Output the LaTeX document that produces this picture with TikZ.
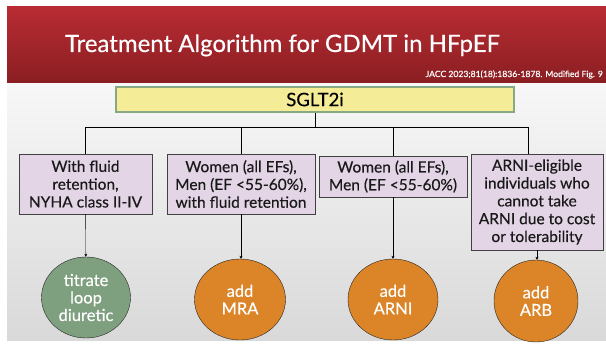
\documentclass[tikz,border=0pt]{standalone}
\usepackage{fontspec}
\setmainfont{Lato}[FakeBold=0.35]
\usetikzlibrary{arrows.meta,shapes.geometric}
\definecolor{bannertop}{HTML}{B82C33}
\definecolor{bannerbot}{HTML}{8A1E22}
\definecolor{boxfill}{HTML}{E3D5E6}
\definecolor{rootfill}{HTML}{F5EC98}
\definecolor{rootline}{HTML}{86A883}
\definecolor{greenfill}{HTML}{7EA07F}
\definecolor{orangefill}{HTML}{DB8428}

\begin{document}
\begin{tikzpicture}[x=1pt,y=-1pt,>={Stealth[length=3pt,width=3pt]},
  every node/.style={align=center},
  cond/.style={draw=black!75,fill=boxfill,inner sep=0pt,text=black!90,
    font=\fontsize{15.5}{17.8}\selectfont},
  drug/.style={ellipse,draw=black!85,inner sep=0pt,text=white,
    font=\fontsize{16.5}{17.5}\selectfont}]
\useasboundingbox (0,0) rectangle (606,345);
\shade[top color=black!3,bottom color=black!15] (7,83) rectangle (606,340);
\shade[top color=bannertop,bottom color=bannerbot] (7,7) rectangle (606,83);
\node[anchor=base,text=white,font=\fontsize{24}{28}\selectfont] (title) at (282.5,52)
  {Treatment Algorithm for GDMT in HFpEF};
\node[anchor=base east,text=white,inner sep=1pt,font=\fontsize{8.6}{10}\selectfont] (ref) at (604,77)
  {JACC 2023;81(18):1836-1878. Modified Fig. 9};

\node[draw=rootline,line width=1.8pt,fill=rootfill,minimum width=398,minimum height=25,
  inner sep=0pt,font=\fontsize{18.5}{20}\selectfont] (sglt) at (315,99.5) {SGLT2i};

\node[cond,minimum width=133,minimum height=60] (fluid) at (85.5,184)
  {With fluid\\retention,\\NYHA class II-IV};
\node[cond,minimum width=148,minimum height=60] (mra) at (241,184)
  {Women (all EFs),\\Men (EF <55-60\%),\\with fluid retention};
\node[cond,minimum width=148,minimum height=41] (arni) at (393,176.5)
  {Women (all EFs),\\Men (EF <55-60\%)};
\node[cond,minimum width=132,minimum height=96] (arb) at (537,202)
  {ARNI-eligible\\individuals who\\cannot take\\ARNI due to cost\\or tolerability};

\node[drug,fill=greenfill,minimum width=89,minimum height=81] (loop) at (86,297.5)
  {titrate\\loop\\diuretic};
\node[drug,fill=orangefill,minimum width=91,minimum height=81] (addmra) at (240,299.5)
  {add\\MRA};
\node[drug,fill=orangefill,minimum width=90,minimum height=81] (addarni) at (393,299.5)
  {add\\ARNI};
\node[drug,fill=orangefill,minimum width=84,minimum height=82] (addarb) at (536,301)
  {add\\ARB};

\coordinate (bus) at (527.7,127);
\draw (sglt.south) -- (sglt.south |- bus);
\draw (fluid.north) |- (bus);
\draw (mra.north) -- (mra.north |- bus);
\draw (arni.north) -- (arni.north |- bus);
\draw (bus) -- (bus |- arb.north);

\draw[->] (fluid) -- (loop);
\draw[->] (mra.south) -- (mra.south |- addmra.north);
\draw[->] (arni) -- (addarni);
\draw[->] (arb.south) -- (arb.south |- addarb.north);
\end{tikzpicture}
\end{document}
